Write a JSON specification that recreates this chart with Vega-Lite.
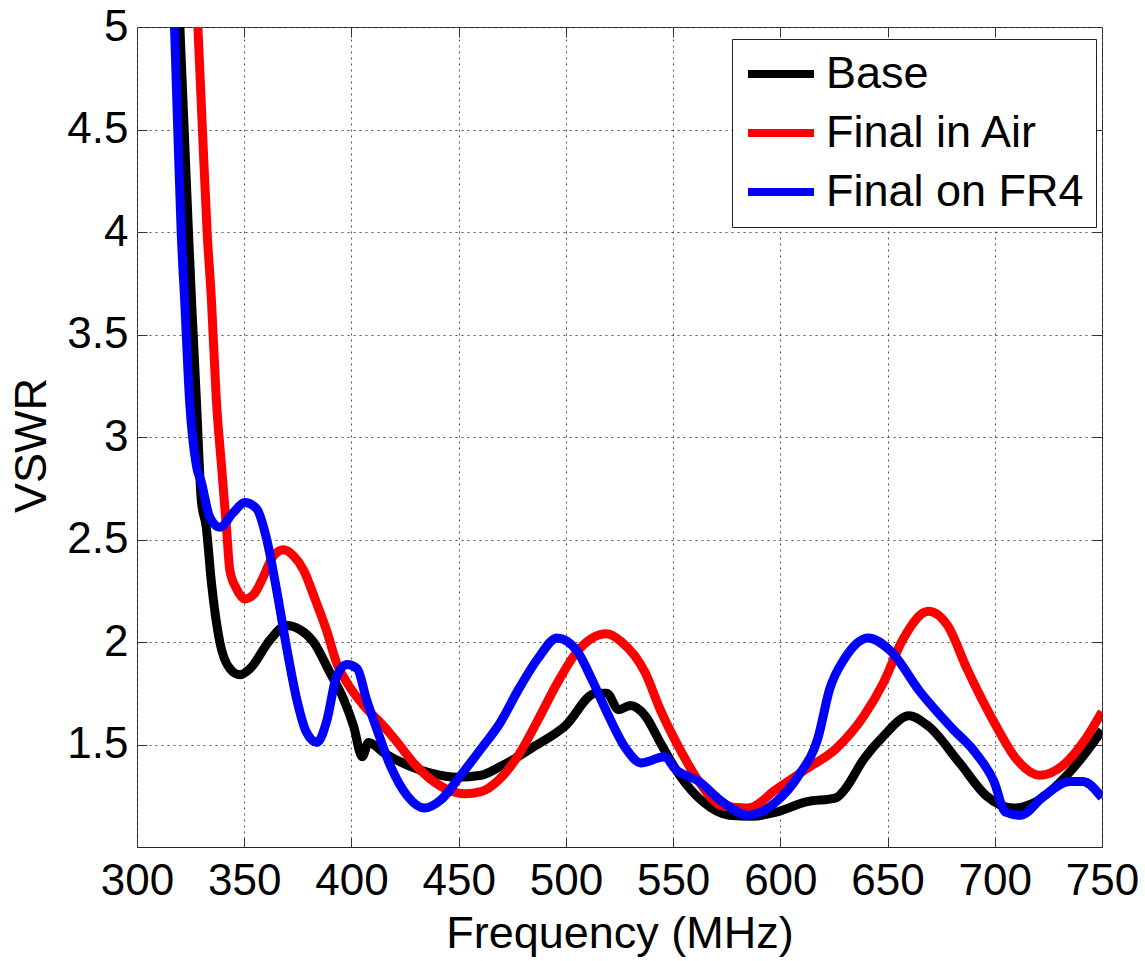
{
  "$schema": "https://vega.github.io/schema/vega-lite/v6.json",
  "width": 965,
  "height": 820,
  "autosize": {"type": "none"},
  "padding": {"left": 137, "top": 27, "right": 43, "bottom": 114},
  "background": "white",
  "config": {
    "font": "Liberation Sans",
    "view": {"stroke": "#222", "strokeWidth": 1},
    "axis": {
      "labelFont": "Liberation Sans",
      "titleFont": "Liberation Sans",
      "labelFontSize": 44,
      "titleFontSize": 45,
      "titleFontWeight": "normal",
      "labelColor": "black",
      "titleColor": "black",
      "tickColor": "#333",
      "domain": false,
      "gridColor": "#555",
      "gridDash": [2, 4],
      "gridWidth": 1
    }
  },
  "data": {
    "values": [
      {"series": "Base", "f": 320, "v": 5.0},
      {"series": "Base", "f": 322, "v": 4.5},
      {"series": "Base", "f": 324, "v": 4.0},
      {"series": "Base", "f": 325.5, "v": 3.65},
      {"series": "Base", "f": 327.7, "v": 3.18},
      {"series": "Base", "f": 330, "v": 2.69},
      {"series": "Base", "f": 332.3, "v": 2.56},
      {"series": "Base", "f": 334.7, "v": 2.29},
      {"series": "Base", "f": 338.6, "v": 2.0},
      {"series": "Base", "f": 343.3, "v": 1.87},
      {"series": "Base", "f": 348, "v": 1.84},
      {"series": "Base", "f": 352.7, "v": 1.87},
      {"series": "Base", "f": 362, "v": 2.01},
      {"series": "Base", "f": 369.8, "v": 2.08},
      {"series": "Base", "f": 376, "v": 2.06},
      {"series": "Base", "f": 382.3, "v": 2.0},
      {"series": "Base", "f": 390, "v": 1.85},
      {"series": "Base", "f": 396.4, "v": 1.72},
      {"series": "Base", "f": 401, "v": 1.59},
      {"series": "Base", "f": 405, "v": 1.44},
      {"series": "Base", "f": 408, "v": 1.51},
      {"series": "Base", "f": 415, "v": 1.46},
      {"series": "Base", "f": 426, "v": 1.4},
      {"series": "Base", "f": 437, "v": 1.36},
      {"series": "Base", "f": 449.5, "v": 1.34},
      {"series": "Base", "f": 460.5, "v": 1.35},
      {"series": "Base", "f": 469, "v": 1.39},
      {"series": "Base", "f": 476, "v": 1.43},
      {"series": "Base", "f": 483.6, "v": 1.48},
      {"series": "Base", "f": 499.6, "v": 1.59},
      {"series": "Base", "f": 514, "v": 1.75},
      {"series": "Base", "f": 519, "v": 1.75},
      {"series": "Base", "f": 524.6, "v": 1.67},
      {"series": "Base", "f": 530, "v": 1.69},
      {"series": "Base", "f": 537, "v": 1.64},
      {"series": "Base", "f": 544, "v": 1.51},
      {"series": "Base", "f": 553, "v": 1.35},
      {"series": "Base", "f": 564, "v": 1.22},
      {"series": "Base", "f": 576, "v": 1.155},
      {"series": "Base", "f": 587, "v": 1.15},
      {"series": "Base", "f": 598, "v": 1.17},
      {"series": "Base", "f": 612, "v": 1.22},
      {"series": "Base", "f": 626, "v": 1.24},
      {"series": "Base", "f": 630, "v": 1.28},
      {"series": "Base", "f": 639, "v": 1.43},
      {"series": "Base", "f": 648, "v": 1.54},
      {"series": "Base", "f": 660, "v": 1.64},
      {"series": "Base", "f": 669, "v": 1.59},
      {"series": "Base", "f": 683.6, "v": 1.41},
      {"series": "Base", "f": 696, "v": 1.25},
      {"series": "Base", "f": 708.6, "v": 1.19},
      {"series": "Base", "f": 719, "v": 1.22},
      {"series": "Base", "f": 733.6, "v": 1.35},
      {"series": "Base", "f": 748, "v": 1.54},
      {"series": "Base", "f": 750, "v": 1.57},

      {"series": "Final in Air", "f": 328.4, "v": 5.0},
      {"series": "Final in Air", "f": 330.5, "v": 4.5},
      {"series": "Final in Air", "f": 332.7, "v": 4.0},
      {"series": "Final in Air", "f": 334.7, "v": 3.67},
      {"series": "Final in Air", "f": 337, "v": 3.18},
      {"series": "Final in Air", "f": 339.4, "v": 2.86},
      {"series": "Final in Air", "f": 341.7, "v": 2.56},
      {"series": "Final in Air", "f": 343.3, "v": 2.35},
      {"series": "Final in Air", "f": 346.4, "v": 2.26},
      {"series": "Final in Air", "f": 350.3, "v": 2.21},
      {"series": "Final in Air", "f": 355, "v": 2.24},
      {"series": "Final in Air", "f": 359, "v": 2.32},
      {"series": "Final in Air", "f": 363.6, "v": 2.42},
      {"series": "Final in Air", "f": 368.3, "v": 2.45},
      {"series": "Final in Air", "f": 373, "v": 2.42},
      {"series": "Final in Air", "f": 377.7, "v": 2.35},
      {"series": "Final in Air", "f": 383, "v": 2.21},
      {"series": "Final in Air", "f": 388.6, "v": 2.05},
      {"series": "Final in Air", "f": 393, "v": 1.9},
      {"series": "Final in Air", "f": 398, "v": 1.8},
      {"series": "Final in Air", "f": 405.8, "v": 1.69},
      {"series": "Final in Air", "f": 415, "v": 1.59},
      {"series": "Final in Air", "f": 421.4, "v": 1.51},
      {"series": "Final in Air", "f": 429, "v": 1.41},
      {"series": "Final in Air", "f": 437, "v": 1.33},
      {"series": "Final in Air", "f": 444.8, "v": 1.28},
      {"series": "Final in Air", "f": 452.7, "v": 1.26},
      {"series": "Final in Air", "f": 460.5, "v": 1.27},
      {"series": "Final in Air", "f": 469, "v": 1.33},
      {"series": "Final in Air", "f": 478, "v": 1.45},
      {"series": "Final in Air", "f": 487, "v": 1.62},
      {"series": "Final in Air", "f": 496, "v": 1.8},
      {"series": "Final in Air", "f": 505, "v": 1.95},
      {"series": "Final in Air", "f": 519, "v": 2.04},
      {"series": "Final in Air", "f": 526, "v": 2.0},
      {"series": "Final in Air", "f": 537, "v": 1.85},
      {"series": "Final in Air", "f": 544, "v": 1.67},
      {"series": "Final in Air", "f": 553, "v": 1.48},
      {"series": "Final in Air", "f": 562, "v": 1.32},
      {"series": "Final in Air", "f": 573, "v": 1.2},
      {"series": "Final in Air", "f": 585, "v": 1.19},
      {"series": "Final in Air", "f": 598, "v": 1.28},
      {"series": "Final in Air", "f": 612, "v": 1.38},
      {"series": "Final in Air", "f": 626, "v": 1.48},
      {"series": "Final in Air", "f": 639, "v": 1.64},
      {"series": "Final in Air", "f": 648, "v": 1.8},
      {"series": "Final in Air", "f": 657, "v": 2.01},
      {"series": "Final in Air", "f": 669, "v": 2.15},
      {"series": "Final in Air", "f": 678, "v": 2.08},
      {"series": "Final in Air", "f": 687, "v": 1.87},
      {"series": "Final in Air", "f": 699.6, "v": 1.61},
      {"series": "Final in Air", "f": 710, "v": 1.43},
      {"series": "Final in Air", "f": 721, "v": 1.35},
      {"series": "Final in Air", "f": 732, "v": 1.4},
      {"series": "Final in Air", "f": 742.5, "v": 1.53},
      {"series": "Final in Air", "f": 750, "v": 1.66},

      {"series": "Final on FR4", "f": 317.5, "v": 5.0},
      {"series": "Final on FR4", "f": 319, "v": 4.5},
      {"series": "Final on FR4", "f": 320.6, "v": 4.0},
      {"series": "Final on FR4", "f": 322.2, "v": 3.67},
      {"series": "Final on FR4", "f": 324.5, "v": 3.18},
      {"series": "Final on FR4", "f": 327.7, "v": 2.86},
      {"series": "Final on FR4", "f": 330, "v": 2.78},
      {"series": "Final on FR4", "f": 333.9, "v": 2.61},
      {"series": "Final on FR4", "f": 338.6, "v": 2.56},
      {"series": "Final on FR4", "f": 344.8, "v": 2.63},
      {"series": "Final on FR4", "f": 350.3, "v": 2.68},
      {"series": "Final on FR4", "f": 355.8, "v": 2.65},
      {"series": "Final on FR4", "f": 360.5, "v": 2.5},
      {"series": "Final on FR4", "f": 365, "v": 2.26},
      {"series": "Final on FR4", "f": 370, "v": 1.96},
      {"series": "Final on FR4", "f": 374.5, "v": 1.72},
      {"series": "Final on FR4", "f": 379, "v": 1.56},
      {"series": "Final on FR4", "f": 384, "v": 1.51},
      {"series": "Final on FR4", "f": 388.6, "v": 1.62},
      {"series": "Final on FR4", "f": 393, "v": 1.83},
      {"series": "Final on FR4", "f": 398, "v": 1.89},
      {"series": "Final on FR4", "f": 402.7, "v": 1.87},
      {"series": "Final on FR4", "f": 407, "v": 1.72},
      {"series": "Final on FR4", "f": 412, "v": 1.57},
      {"series": "Final on FR4", "f": 418, "v": 1.4},
      {"series": "Final on FR4", "f": 426, "v": 1.25},
      {"series": "Final on FR4", "f": 434, "v": 1.19},
      {"series": "Final on FR4", "f": 441.7, "v": 1.23},
      {"series": "Final on FR4", "f": 451, "v": 1.35},
      {"series": "Final on FR4", "f": 460.5, "v": 1.48},
      {"series": "Final on FR4", "f": 469, "v": 1.6},
      {"series": "Final on FR4", "f": 478, "v": 1.77},
      {"series": "Final on FR4", "f": 487, "v": 1.92},
      {"series": "Final on FR4", "f": 496, "v": 2.02},
      {"series": "Final on FR4", "f": 505, "v": 1.96},
      {"series": "Final on FR4", "f": 512, "v": 1.82},
      {"series": "Final on FR4", "f": 519, "v": 1.66},
      {"series": "Final on FR4", "f": 528, "v": 1.48},
      {"series": "Final on FR4", "f": 535, "v": 1.41},
      {"series": "Final on FR4", "f": 546, "v": 1.44},
      {"series": "Final on FR4", "f": 551, "v": 1.38},
      {"series": "Final on FR4", "f": 562, "v": 1.32},
      {"series": "Final on FR4", "f": 573, "v": 1.22},
      {"series": "Final on FR4", "f": 585, "v": 1.155},
      {"series": "Final on FR4", "f": 598, "v": 1.22},
      {"series": "Final on FR4", "f": 608.6, "v": 1.35},
      {"series": "Final on FR4", "f": 617.5, "v": 1.53},
      {"series": "Final on FR4", "f": 623, "v": 1.77},
      {"series": "Final on FR4", "f": 630, "v": 1.92},
      {"series": "Final on FR4", "f": 641, "v": 2.02},
      {"series": "Final on FR4", "f": 651, "v": 1.96},
      {"series": "Final on FR4", "f": 665.7, "v": 1.75},
      {"series": "Final on FR4", "f": 680, "v": 1.58},
      {"series": "Final on FR4", "f": 691, "v": 1.46},
      {"series": "Final on FR4", "f": 699.6, "v": 1.32},
      {"series": "Final on FR4", "f": 705, "v": 1.17},
      {"series": "Final on FR4", "f": 712, "v": 1.155},
      {"series": "Final on FR4", "f": 723, "v": 1.25},
      {"series": "Final on FR4", "f": 735, "v": 1.32},
      {"series": "Final on FR4", "f": 741, "v": 1.32},
      {"series": "Final on FR4", "f": 750, "v": 1.24}
    ]
  },
  "layer": [
    {
      "mark": {"type": "line", "strokeWidth": 9, "interpolate": "monotone", "clip": true, "strokeJoin": "round"},
      "encoding": {
        "x": {
          "field": "f", "type": "quantitative",
          "scale": {"domain": [300, 750], "nice": false, "zero": false},
          "axis": {
            "title": "Frequency (MHz)",
            "values": [300, 350, 400, 450, 500, 550, 600, 650, 700, 750],
            "format": "d",
            "grid": true,
            "tickSize": -10,
            "labelPadding": 22,
            "labelFlush": false,
            "titleBaseline": "alphabetic",
            "titleY": 100
          }
        },
        "y": {
          "field": "v", "type": "quantitative",
          "scale": {"domain": [1, 5], "nice": false, "zero": false},
          "axis": {
            "title": "VSWR",
            "values": [1.5, 2, 2.5, 3, 3.5, 4, 4.5, 5],
            "format": "~g",
            "grid": true,
            "tickSize": -10,
            "labelPadding": 19,
            "titleX": -106,
            "titleY": 418,
            "titleBaseline": "middle"
          }
        },
        "color": {
          "field": "series", "type": "nominal",
          "scale": {"domain": ["Base", "Final in Air", "Final on FR4"], "range": ["#000000", "#ff0000", "#0000ff"]},
          "legend": {
            "title": null,
            "orient": "none",
            "legendX": 595,
            "legendY": 12,
            "symbolType": "stroke",
            "symbolSize": 4356,
            "symbolStrokeWidth": 8,
            "clipHeight": 46,
            "labelFontSize": 45,
            "labelFont": "Liberation Sans",
            "labelColor": "black",
            "labelLimit": 0,
            "labelOffset": 8,
            "rowPadding": 13,
            "padding": 12,
            "strokeColor": "#222",
            "fillColor": "white"
          }
        }
      }
    },
    {
      "mark": {"type": "line", "strokeOpacity": 0},
      "encoding": {
        "x": {
          "field": "f", "type": "quantitative",
          "axis": {
            "orient": "top", "title": null, "labels": false, "grid": false,
            "values": [300, 350, 400, 450, 500, 550, 600, 650, 700, 750],
            "tickSize": -10
          }
        },
        "y": {
          "field": "v", "type": "quantitative",
          "axis": {
            "orient": "right", "title": null, "labels": false, "grid": false,
            "values": [1.5, 2, 2.5, 3, 3.5, 4, 4.5, 5],
            "tickSize": -10
          }
        },
        "detail": {"field": "series"}
      }
    }
  ],
  "resolve": {"axis": {"x": "independent", "y": "independent"}}
}
